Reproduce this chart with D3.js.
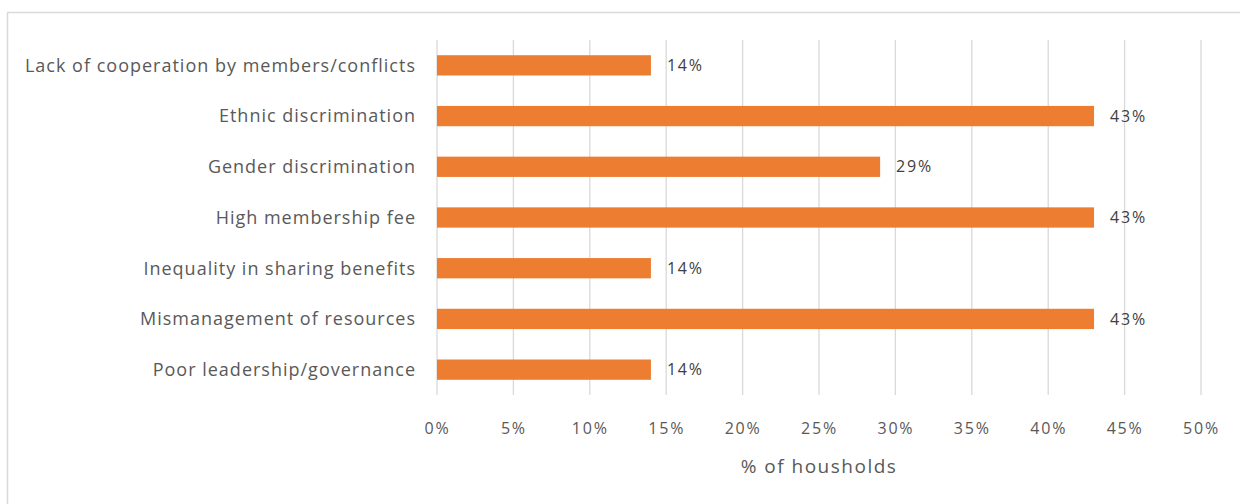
<!DOCTYPE html>
<html>
<head>
<meta charset="utf-8">
<script src="https://cdn.jsdelivr.net/npm/d3@7"></script>
<style>
  html, body { margin: 0; padding: 0; background: #fff; }
  svg { display: block; }
  text { font-family: "Open Sans", "Noto Sans", sans-serif; }
</style>
</head>
<body>
<svg id="chart" width="1240" height="504"></svg>
<script>
// Reasons given for not joining community groups, share of households
const categories = [
  "Lack of cooperation by members/conflicts",
  "Ethnic discrimination",
  "Gender discrimination",
  "High membership fee",
  "Inequality in sharing benefits",
  "Mismanagement of resources",
  "Poor leadership/governance"
];
const values = [14, 43, 29, 43, 14, 43, 14];
const tickValues = [0, 5, 10, 15, 20, 25, 30, 35, 40, 45, 50];
const axisTitle = "% of housholds";

const svg = d3.select("#chart");
const margin = { left: 437, right: 39, top: 40, bottom: 109 };
const W = 1240, H = 504;

// outer frame
svg.append("rect")
  .attr("x", 7.5).attr("y", 12.5)
  .attr("width", W).attr("height", H)
  .attr("fill", "none").attr("stroke", "#d9d9d9").attr("stroke-width", 1.5);

const x = d3.scaleLinear().domain([0, 50]).range([margin.left, W - margin.right]);
const y = d3.scaleBand().domain(categories)
  .range([margin.top, H - margin.bottom]).paddingInner(0.6).paddingOuter(0.3);

// vertical gridlines
svg.append("g").selectAll("line").data(tickValues).join("line")
  .attr("x1", d => x(d)).attr("x2", d => x(d))
  .attr("y1", margin.top).attr("y2", H - margin.bottom)
  .attr("stroke", "#d9d9d9").attr("stroke-width", 1.3);

// bars
svg.append("g").selectAll("rect").data(categories).join("rect")
  .attr("x", x(0))
  .attr("y", d => y(d))
  .attr("width", (d, i) => x(values[i]) - x(0))
  .attr("height", y.bandwidth())
  .attr("fill", "#ed7d31");

// value labels
svg.append("g").selectAll("text").data(categories).join("text")
  .attr("x", (d, i) => x(values[i]) + 16)
  .attr("y", d => y(d) + y.bandwidth() / 2)
  .attr("dy", "0.35em")
  .attr("font-size", 16)
  .attr("letter-spacing", 1.8)
  .attr("fill", "#404040")
  .text((d, i) => values[i] + "%");

// category axis labels
svg.append("g").selectAll("text").data(categories).join("text")
  .attr("x", 416)
  .attr("y", d => y(d) + y.bandwidth() / 2)
  .attr("dy", "0.35em")
  .attr("text-anchor", "end")
  .attr("font-size", 18)
  .attr("letter-spacing", 1)
  .attr("fill", "#595959")
  .text(d => d);

// value axis tick labels
const xAxis = svg.append("g")
  .attr("transform", `translate(0,${H - margin.bottom})`)
  .call(d3.axisBottom(x).tickValues(tickValues).tickFormat(d => d + "%").tickSize(0).tickPadding(28));
xAxis.select(".domain").remove();
xAxis.selectAll("text")
  .attr("font-family", "\"Open Sans\", \"Noto Sans\", sans-serif")
  .attr("font-size", 16)
  .attr("letter-spacing", 1.8)
  .attr("fill", "#595959");

// axis title
svg.append("text")
  .attr("x", (x(0) + x(50)) / 2)
  .attr("y", 466)
  .attr("dy", "0.35em")
  .attr("text-anchor", "middle")
  .attr("font-size", 19)
  .attr("letter-spacing", 1.5)
  .attr("fill", "#595959")
  .text(axisTitle);
</script>
</body>
</html>
